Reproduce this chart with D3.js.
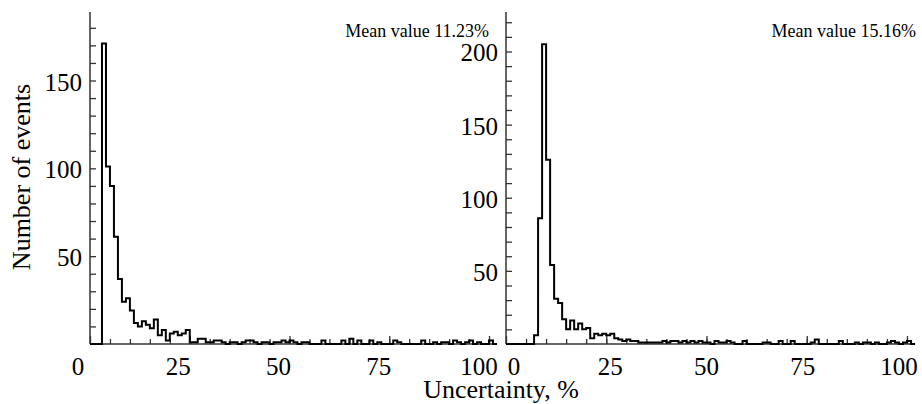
<!DOCTYPE html>
<html>
<head>
<meta charset="utf-8">
<script src="https://cdn.jsdelivr.net/npm/d3@7"></script>
<style>
  body { margin: 0; background: #fff; }
  text { font-family: "Liberation Serif", "Times New Roman", serif; fill: #000; }
</style>
</head>
<body>
<div id="chart"></div>
<script>
// histogram counts, one value per 1% bin starting at 0
var countsLeft = [0, 0, 0, 171, 101, 90, 61, 37, 24, 26, 19, 12, 10, 13, 11, 9, 14, 5, 8, 2,
    6, 7, 5, 6, 8, 1, 1, 3, 3, 1, 1, 2, 2, 1, 0, 1, 1, 0, 1, 2,
    2, 1, 0, 1, 1, 0, 1, 1, 2, 1, 2, 1, 0, 1, 1, 0, 0, 0, 2, 0,
    0, 0, 0, 2, 0, 3, 0, 2, 0, 0, 2, 0, 1, 0, 0, 0, 2, 1, 0, 0,
    0, 0, 0, 2, 0, 0, 1, 0, 1, 1, 0, 2, 1, 0, 1, 2, 0, 1, 0, 0,
    2, 0];
var countsRight = [0, 0, 0, 0, 0, 0, 0, 6, 86, 205, 126, 54, 31, 28, 17, 10, 16, 10, 14, 10,
    11, 4, 7, 6, 7, 6, 7, 4, 3, 2, 3, 2, 2, 1, 1, 1, 1, 1, 1, 2,
    1, 2, 2, 1, 2, 1, 2, 1, 2, 1, 1, 0, 2, 1, 1, 2, 1, 0, 0, 2,
    0, 0, 0, 0, 1, 1, 0, 0, 2, 0, 0, 2, 0, 0, 0, 0, 1, 3, 0, 0,
    0, 0, 0, 2, 0, 0, 0, 1, 0, 1, 1, 0, 1, 0, 0, 1, 2, 1, 0, 1,
    2, 0];
var meanLabels = ["Mean value 11.23%", "Mean value 15.16%"];
var xTicks = [0, 25, 50, 75, 100];
var yTicksLeft = [50, 100, 150];
var yTicksRight = [50, 100, 150, 200];

var W = 922, H = 404;
var svg = d3.select("#chart").append("svg")
    .attr("width", W).attr("height", H);

var panels = [
    { counts: countsLeft, mean: meanLabels[0], yTicks: yTicksLeft, yMax: 189,
      x0: 90, x1: 497, lab0: 78, lab1: 479, meanX: 489 },
    { counts: countsRight, mean: meanLabels[1], yTicks: yTicksRight, yMax: 227,
      x0: 506, x1: 915, lab0: 514, lab1: 899, meanX: 916 }
];
var plotTop = 12, plotBottom = 344;

panels.forEach(function (p) {
    var x = d3.scaleLinear().domain([0, 102]).range([p.x0, p.x1]);
    var y = d3.scaleLinear().domain([0, p.yMax]).range([plotBottom, plotTop]);
    // tick labels in the original sit a bit off the ticks
    var xl = d3.scaleLinear().domain([0, 100]).range([p.lab0, p.lab1]);

    var g = svg.append("g");

    // minor x ticks (every 5)
    g.append("g")
        .attr("transform", "translate(0," + plotBottom + ")")
        .call(d3.axisBottom(x).tickValues(d3.range(5, 101, 5)).tickSize(-5).tickSizeOuter(0).tickFormat(""))
        .call(function (a) { a.select(".domain").remove(); });
    // major x ticks
    g.append("g")
        .attr("transform", "translate(0," + plotBottom + ")")
        .call(d3.axisBottom(x).tickValues(xTicks).tickSize(-8).tickSizeOuter(0).tickFormat(""))
        .call(function (a) { a.select(".domain").remove(); });

    g.selectAll(".xlab")
        .data(xTicks)
        .enter().append("text")
        .attr("x", function (d) { return xl(d); })
        .attr("y", 375)
        .attr("text-anchor", "middle")
        .style("font-size", "25px")
        .text(function (d) { return d; });

    // y ticks every 10, inward
    g.append("g")
        .attr("transform", "translate(" + p.x0 + ",0)")
        .call(d3.axisLeft(y).tickValues(d3.range(10, p.yMax, 10)).tickSize(-6).tickSizeOuter(0).tickFormat(""))
        .call(function (a) { a.select(".domain").remove(); });

    g.selectAll(".ylab")
        .data(p.yTicks)
        .enter().append("text")
        .attr("x", p.x0 - 8)
        .attr("y", function (d) { return y(d) + 10; })
        .attr("text-anchor", "end")
        .style("font-size", "25px")
        .text(function (d) { return d; });

    g.selectAll(".tick line").attr("stroke", "#333").attr("stroke-width", 1.3);

    // axis lines
    g.append("line")
        .attr("x1", p.x0).attr("x2", p.x0).attr("y1", plotTop).attr("y2", plotBottom)
        .attr("stroke", "#333").attr("stroke-width", 1.5);
    g.append("line")
        .attr("x1", p.x0).attr("x2", p.x1).attr("y1", plotBottom).attr("y2", plotBottom)
        .attr("stroke", "#333").attr("stroke-width", 1.5);

    // histogram outline
    var pts = p.counts.map(function (c, i) { return [i, c]; });
    pts.push([p.counts.length, 0]);
    var line = d3.line()
        .x(function (d) { return x(d[0]); })
        .y(function (d) { return y(d[1]); })
        .curve(d3.curveStepAfter);
    g.append("path")
        .datum(pts)
        .attr("d", line)
        .attr("fill", "none")
        .attr("stroke", "#000")
        .attr("stroke-width", 2);

    g.append("text")
        .attr("x", p.meanX)
        .attr("y", 37)
        .attr("text-anchor", "end")
        .style("font-size", "18px")
        .text(p.mean);
});

// axis titles
svg.append("text")
    .attr("transform", "translate(29.5,177) rotate(-90)")
    .attr("text-anchor", "middle")
    .style("font-size", "26px")
    .text("Number of events");

svg.append("text")
    .attr("x", 501)
    .attr("y", 398)
    .attr("text-anchor", "middle")
    .style("font-size", "26px")
    .text("Uncertainty, %");
</script>
</body>
</html>
